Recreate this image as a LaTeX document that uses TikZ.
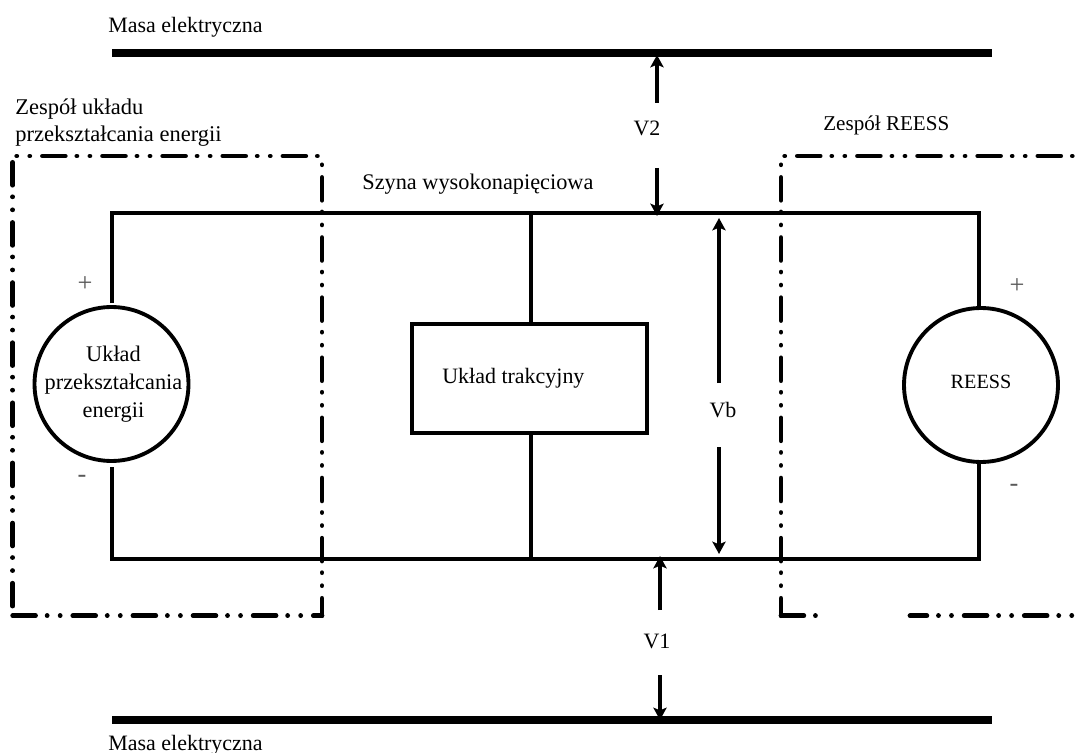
\documentclass[tikz,border=0pt]{standalone}
\usepackage{fontspec}
\setmainfont{Liberation Serif}
\usetikzlibrary{arrows.meta}

\tikzset{
    lbl/.style={inner sep=0pt, font=\fontsize{12.5}{16}\selectfont},
    wire/.style={line width=2.2pt, line join=miter},
    rail/.style={line width=4.5pt},
    zone/.style={line width=2.7pt, line cap=round, line join=round,
        dash pattern=on 13pt off 6.6pt on 0.01pt off 7.4pt on 0.01pt off 7.2pt},
    volt/.style={line width=2.7pt, -{Stealth[length=7pt, width=7.5pt, inset=1.5pt]}},
    source/.style={draw, circle, line width=2.2pt, inner sep=0pt, minimum size=3.08cm},
    unit/.style={draw, rectangle, line width=2.2pt, minimum width=4.7cm, minimum height=2.18cm},
    sign/.style={inner sep=0pt, text=black!65, font=\fontsize{15}{16}\selectfont}
}

\begin{document}
\begin{tikzpicture}[x=0.02cm, y=-0.02cm]
    \useasboundingbox (0,0) rectangle (1075,753);

    % ground rails
    \coordinate (railTL) at (112,53);
    \coordinate (railTR) at (992,53);
    \coordinate (railBL) at (112,720);
    \coordinate (railBR) at (992,720);
    \draw[rail] (railTL) -- (railTR);
    \draw[rail] (railBL) -- (railBR);

    % zones
    \coordinate (zoneLa) at (322,156);
    \coordinate (zoneLb) at (12.7,156);
    \coordinate (zoneLc) at (12.7,615.7);
    \coordinate (zoneLd) at (322,615.7);
    \coordinate (zoneRa) at (1080,156);
    \coordinate (zoneRb) at (781,156);
    \coordinate (zoneRc) at (781,615.7);
    \coordinate (zoneRd) at (820,615.7);
    \coordinate (zoneRe) at (910,615.7);
    \coordinate (zoneRf) at (1080,615.7);
    \draw[zone, dash phase=17.3pt] (zoneLb) -- (zoneLa);
    \draw[zone, dash phase=22pt] (zoneLa) -- (zoneLd);
    \draw[zone, dash phase=30.6pt] (zoneLb) -- (zoneLc);
    \draw[zone] (zoneLc) -- (zoneLd);
    \draw[zone, dash phase=24.9pt] (zoneRb) -- (zoneRa);
    \draw[zone, dash phase=22pt] (zoneRb) -- (zoneRc);
    \draw[zone] (zoneRc) -- (zoneRd);
    \draw[zone, dash phase=3.4pt] (zoneRe) -- (zoneRf);

    % bus
    \node[source] (srcConv) at (111.5,384) {};
    \node[source] (srcReess) at (981,385) {};
    \node[unit] (traction) at (529.5,378.5) {};
    \node[lbl, align=center, font=\fontsize{12.7}{16}\selectfont] (srcConvLbl) at (113.5,384) {Układ\\przekształcania\\energii};
    \node[lbl, anchor=base, font=\fontsize{11.5}{14}\selectfont] (srcReessLbl) at (981,388) {REESS};
    \node[lbl, anchor=base west] (tractionLbl) at (442,383) {Układ trakcyjny};
    \coordinate (busTL) at (111.7,213);
    \coordinate (busTM) at (531,213);
    \coordinate (busTR) at (979,213);
    \coordinate (busBL) at (111.7,558.7);
    \coordinate (busBM) at (531,558.7);
    \coordinate (busBR) at (979,558.7);
    \coordinate (stubTL) at (111.7,303);
    \coordinate (stubBL) at (111.7,467);
    \draw[wire] (stubTL) -- (busTL) -- (busTR) -- (busTR |- srcReess.north);
    \draw[wire] (stubBL) -- (busBL) -- (busBR) -- (busBR |- srcReess.south);
    \draw[wire] (busTM) -- (busTM |- traction.north);
    \draw[wire] (busBM) -- (busBM |- traction.south);

    % voltages
    \node[lbl, anchor=base] (vtwo) at (647,136) {V2};
    \node[lbl, anchor=base] (vone) at (657,648) {V1};
    \node[lbl, anchor=base] (vb) at (723,417) {Vb};
    \coordinate (vtwoA) at (657,103);
    \coordinate (vtwoB) at (657,55);
    \coordinate (vtwoC) at (657,168);
    \coordinate (vtwoD) at (657,216);
    \coordinate (voneA) at (660,610);
    \coordinate (voneB) at (660,556);
    \coordinate (voneC) at (660,675);
    \coordinate (voneD) at (660,720);
    \coordinate (vbA) at (719,383);
    \coordinate (vbB) at (719,218);
    \coordinate (vbC) at (719,447);
    \coordinate (vbD) at (719,554);
    \draw[volt] (vtwoA) -- (vtwoB);
    \draw[volt] (vtwoC) -- (vtwoD);
    \draw[volt] (voneA) -- (voneB);
    \draw[volt] (voneC) -- (voneD);
    \draw[volt] (vbA) -- (vbB);
    \draw[volt] (vbC) -- (vbD);

    % labels
    \node[lbl, anchor=base west] (massTop) at (108,33) {Masa elektryczna};
    \node[lbl, anchor=base west] (massBot) at (108,750) {Masa elektryczna};
    \node[lbl, anchor=west, align=left, font=\fontsize{12.8}{15.6}\selectfont] (zoneConvLbl) at (15,122.5) {Zespół układu\\przekształcania energii};
    \node[lbl, anchor=base west, font=\fontsize{12}{14}\selectfont] (zoneReessLbl) at (823,131) {Zespół REESS};
    \node[lbl, anchor=base west, font=\fontsize{12.7}{16}\selectfont] (busLbl) at (362,190) {Szyna wysokonapięciowa};
    \node[sign] (plusL) at (85,284) {+};
    \node[sign] (minusL) at (82,479) {-};
    \node[sign] (plusR) at (1017,286) {+};
    \node[sign] (minusR) at (1014,488) {-};
\end{tikzpicture}
\end{document}
